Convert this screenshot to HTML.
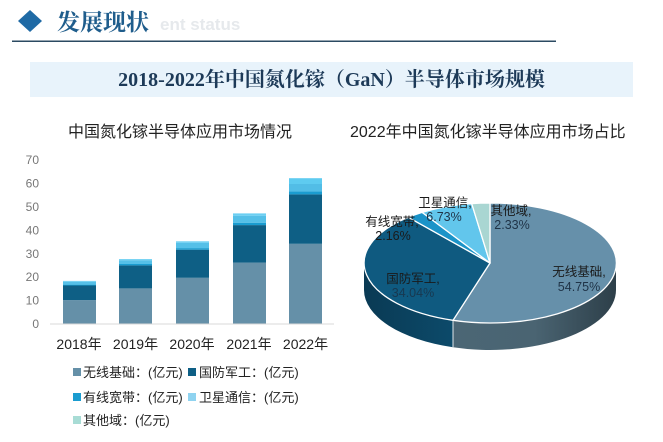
<!DOCTYPE html>
<html><head><meta charset="utf-8"><style>
html,body{margin:0;padding:0;background:#fff;}
svg{display:block;}
.cjk{font-family:"Liberation Sans","Noto Sans CJK SC",sans-serif;}
.serif{font-family:"Liberation Serif","Noto Serif CJK SC",serif;}
</style></head><body>
<svg width="663" height="442" viewBox="0 0 663 442" xmlns="http://www.w3.org/2000/svg">
<defs>
<linearGradient id="gw" x1="0" y1="0" x2="1" y2="0">
<stop offset="0" stop-color="#4b6675"/><stop offset="0.5" stop-color="#4a6472"/><stop offset="1" stop-color="#2d3f49"/>
</linearGradient>
<linearGradient id="gd" x1="0" y1="0" x2="1" y2="0">
<stop offset="0" stop-color="#0a3a54"/><stop offset="1" stop-color="#0c4a6a"/>
</linearGradient>
</defs>
<rect width="663" height="442" fill="#fff"/>

<!-- header -->
<polygon points="30,10 42,21 30,32 18,21" fill="#1f6aa5"/>
<text x="160" y="30" class="cjk" font-size="17" font-weight="bold" fill="#e6e9ec">ent status</text>
<text x="57" y="30" class="serif" font-size="23" font-weight="bold" fill="#1f5d8c">发展现状</text>
<rect x="12" y="40.5" width="544" height="1.5" fill="#2b4a62"/>

<rect x="30" y="62" width="603" height="35" fill="#e8f3fb"/>
<text x="331.5" y="86" text-anchor="middle" class="serif" font-size="20" font-weight="bold" fill="#1d3a58">2018-2022年中国氮化镓（GaN）半导体市场规模</text>

<!-- subtitles -->
<text x="68" y="137" class="cjk" font-size="16" fill="#222">中国氮化镓半导体应用市场情况</text>
<text x="350" y="137" class="cjk" font-size="16" fill="#222">2022年中国氮化镓半导体应用市场占比</text>

<!-- y axis labels -->
<g class="cjk" font-size="12" fill="#777" text-anchor="end">
<text x="39" y="164">70</text>
<text x="39" y="187.5">60</text>
<text x="39" y="211">50</text>
<text x="39" y="234.5">40</text>
<text x="39" y="258">30</text>
<text x="39" y="281">20</text>
<text x="39" y="304.5">10</text>
<text x="39" y="328">0</text>
</g>
<rect x="50" y="323.5" width="284" height="1" fill="#d9d9d9"/>

<!-- bars -->
<g>
<!-- 2018 -->
<rect x="63" y="300.1" width="33" height="23.4" fill="#6590a8"/>
<rect x="63" y="285.5" width="33" height="14.6" fill="#0e5f85"/>
<rect x="63" y="284.6" width="33" height="0.9" fill="#1a9cd0"/>
<rect x="63" y="281.8" width="33" height="2.8" fill="#55c0e8"/>
<rect x="63" y="280.9" width="33" height="0.9" fill="#6ccff2"/>
<!-- 2019 -->
<rect x="119" y="288.4" width="33" height="35.1" fill="#6590a8"/>
<rect x="119" y="265.4" width="33" height="23" fill="#0e5f85"/>
<rect x="119" y="264" width="33" height="1.4" fill="#1a9cd0"/>
<rect x="119" y="260.2" width="33" height="3.8" fill="#55c0e8"/>
<rect x="119" y="259.1" width="33" height="1.1" fill="#6ccff2"/>
<!-- 2020 -->
<rect x="176" y="277.8" width="33" height="45.7" fill="#6590a8"/>
<rect x="176" y="249.7" width="33" height="28.1" fill="#0e5f85"/>
<rect x="176" y="248.1" width="33" height="1.6" fill="#1a9cd0"/>
<rect x="176" y="242.9" width="33" height="5.2" fill="#55c0e8"/>
<rect x="176" y="241.3" width="33" height="1.6" fill="#6ccff2"/>
<!-- 2021 -->
<rect x="233" y="262.6" width="33" height="60.9" fill="#6590a8"/>
<rect x="233" y="225.1" width="33" height="37.5" fill="#0e5f85"/>
<rect x="233" y="222.7" width="33" height="2.4" fill="#1a9cd0"/>
<rect x="233" y="215.7" width="33" height="7" fill="#55c0e8"/>
<rect x="233" y="213.4" width="33" height="2.3" fill="#6ccff2"/>
<!-- 2022 -->
<rect x="289" y="243.8" width="33" height="79.7" fill="#6590a8"/>
<rect x="289" y="194.4" width="33" height="49.4" fill="#0e5f85"/>
<rect x="289" y="191.4" width="33" height="3" fill="#1a9cd0"/>
<rect x="289" y="184" width="33" height="7.4" fill="#52bde6"/>
<rect x="289" y="178.2" width="33" height="5.8" fill="#5ecbf0"/>
</g>

<!-- x labels -->
<g class="cjk" font-size="14" fill="#222" text-anchor="middle">
<text x="79" y="349">2018年</text>
<text x="135.5" y="349">2019年</text>
<text x="192" y="349">2020年</text>
<text x="249" y="349">2021年</text>
<text x="305.5" y="349">2022年</text>
</g>

<!-- legend -->
<g class="cjk" font-size="13" fill="#222">
<rect x="73" y="368" width="8" height="8" fill="#6590a8"/>
<text x="83" y="377">无线基础：(亿元)</text>
<rect x="188" y="368" width="8" height="8" fill="#0e5f85"/>
<text x="199" y="377">国防军工：(亿元)</text>
<rect x="73" y="393" width="8" height="8" fill="#1a9cd0"/>
<text x="83" y="402">有线宽带：(亿元)</text>
<rect x="188" y="393" width="8" height="8" fill="#8fd3f0"/>
<text x="199" y="402">卫星通信：(亿元)</text>
<rect x="73" y="416" width="8" height="8" fill="#a8dcd5"/>
<text x="83" y="425">其他域：(亿元)</text>
</g>

<!-- pie sides -->
<path d="M616,263 A126,60 0 0 1 453,320.3 L453,347.3 A126,60 0 0 0 616,290 Z" fill="url(#gw)"/>
<path d="M453,320.3 A126,60 0 0 1 364,263 L364,290 A126,60 0 0 0 453,347.3 Z" fill="url(#gd)"/>
<line x1="453" y1="320.3" x2="453" y2="347.3" stroke="#dfe6ea" stroke-width="1"/>

<!-- pie top -->
<g stroke="#ffffff" stroke-width="1.3" stroke-linejoin="round">
<path d="M490,263 L490,203 A126,60 0 1 1 453,320.3 Z" fill="#6690aa"/>
<path d="M490,263 L453,320.3 A126,60 0 0 1 408.4,217.3 Z" fill="#0f5a80"/>
<path d="M490,263 L408.4,217.3 A126,60 0 0 1 422.1,212.4 Z" fill="#1b93c8"/>
<path d="M490,263 L422.1,212.4 A126,60 0 0 1 471.7,203.6 Z" fill="#62c6ec"/>
<path d="M490,263 L471.7,203.6 A126,60 0 0 1 490,203 Z" fill="#a9d6d2"/>
</g>

<!-- pie labels -->
<g class="cjk" font-size="12.5" text-anchor="middle">
<text x="579" y="276" fill="#1a1a1a">无线基础,</text>
<text x="579" y="291" fill="#1f3347">54.75%</text>
<text x="413" y="283" fill="#1a1a1a">国防军工,</text>
<text x="413" y="297" fill="#18384f">34.04%</text>
<text x="392" y="226" fill="#1a1a1a">有线宽带,</text>
<text x="393" y="240" fill="#1a1a1a">2.16%</text>
<text x="445" y="207" fill="#1a1a1a">卫星通信,</text>
<text x="444" y="221" fill="#1f3347">6.73%</text>
<text x="511" y="215" fill="#1a1a1a">其他域,</text>
<text x="512" y="229" fill="#1f3347">2.33%</text>
</g>
</svg>
</body></html>
